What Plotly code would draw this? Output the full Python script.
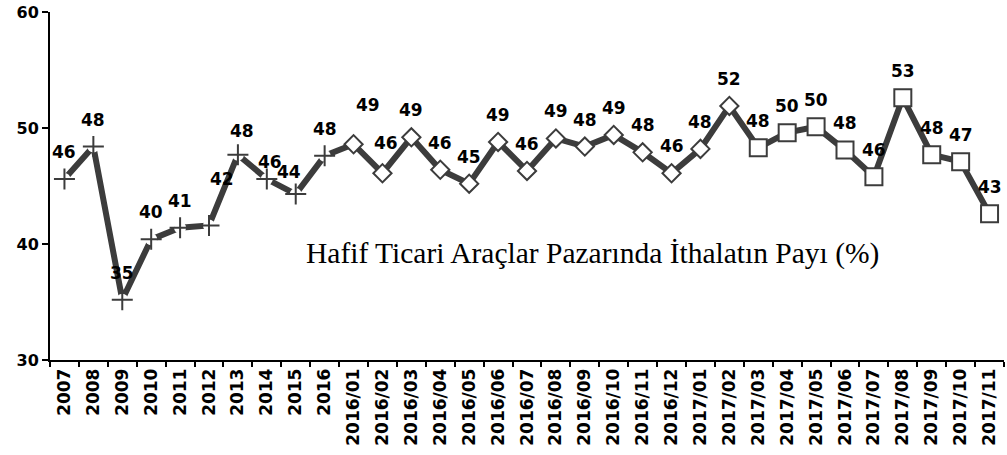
import plotly.graph_objects as go

categories = ["2007", "2008", "2009", "2010", "2011", "2012", "2013", "2014", "2015", "2016",
              "2016/01", "2016/02", "2016/03", "2016/04", "2016/05", "2016/06", "2016/07",
              "2016/08", "2016/09", "2016/10", "2016/11", "2016/12",
              "2017/01", "2017/02", "2017/03", "2017/04", "2017/05", "2017/06", "2017/07",
              "2017/08", "2017/09", "2017/10", "2017/11"]
values = [45.6, 48.4, 35.2, 40.4, 41.4, 41.6, 47.7, 45.6, 44.3, 47.6,
          48.6, 46.1, 49.2, 46.4, 45.2, 48.8, 46.3, 49.1, 48.4, 49.4, 47.9, 46.1,
          48.2, 51.9, 48.3, 49.6, 50.1, 48.1, 45.8, 52.6, 47.7, 47.1, 42.6]
# marker groups
n_years = 10        # 2007..2016 -> cross markers
n_diamond = 14      # 2016/01..2017/02 -> diamond markers
title_text = "Hafif Ticari Araçlar Pazarında İthalatın Payı (%)"

# label shifts (x, y) in pixels for labels that are not simply above the point
label_shift = {"2012": (13, 46), "2013": (4, 24), "2014": (3, 17), "2015": (-7, 22),
               "2016/01": (14, 39), "2016/02": (4, 30)}

LINE = "#3c3c3c"
fig = go.Figure()
fig.add_trace(go.Scatter(x=categories, y=values, mode="lines",
                         line=dict(color=LINE, width=6), hoverinfo="skip"))
cx, cy = categories[:n_years], values[:n_years]
fig.add_trace(go.Scatter(x=cx, y=cy, mode="markers",
                         marker=dict(symbol="circle", size=12, color="white"), hoverinfo="skip"))
fig.add_trace(go.Scatter(x=cx, y=cy, mode="markers",
                         marker=dict(symbol="cross-thin", size=15, line=dict(color=LINE, width=2))))
dx, dy = categories[n_years:n_years + n_diamond], values[n_years:n_years + n_diamond]
fig.add_trace(go.Scatter(x=dx, y=dy, mode="markers",
                         marker=dict(symbol="diamond", size=14, color="white",
                                     line=dict(color=LINE, width=2))))
sx, sy = categories[n_years + n_diamond:], values[n_years + n_diamond:]
fig.add_trace(go.Scatter(x=sx, y=sy, mode="markers",
                         marker=dict(symbol="square", size=17, color="white",
                                     line=dict(color=LINE, width=2))))

annotations = []
for i, (c, v) in enumerate(zip(categories, values)):
    xs, ys = label_shift.get(c, (0, 27))
    annotations.append(dict(x=i, y=v, text=f"{v:.0f}", showarrow=False,
                            xshift=xs, yshift=ys, yanchor="middle",
                            font=dict(family="DejaVu Sans", size=17, color="black", weight="bold")))
annotations.append(dict(x=0.569, y=0.254, xref="paper", yref="paper", text=title_text,
                        showarrow=False, font=dict(family="Liberation Serif", size=29.5, color="black")))

fig.update_layout(
    width=1007, height=455, showlegend=False,
    paper_bgcolor="white", plot_bgcolor="white",
    margin=dict(l=50, r=3, t=10, b=95),
    annotations=annotations,
    xaxis=dict(type="category", categoryorder="array", categoryarray=categories,
               showline=True, linecolor="black", linewidth=1.5,
               ticks="outside", tickson="boundaries", ticklen=5, tickcolor="black", tickwidth=1.5,
               tickangle=-90, showgrid=False, range=[-0.5, len(categories) - 0.5],
               tickfont=dict(family="DejaVu Sans", size=17, color="black", weight="bold")),
    yaxis=dict(range=[30, 60], dtick=10, showline=True, linecolor="black", linewidth=2,
               ticks="outside", ticklen=6, tickcolor="black", tickwidth=1.5,
               showgrid=False, zeroline=False,
               tickfont=dict(family="DejaVu Sans", size=16, color="black", weight="bold")),
)
fig.write_html("out.html", config={"displayModeBar": False},
               post_script="document.body.style.margin='0';")
